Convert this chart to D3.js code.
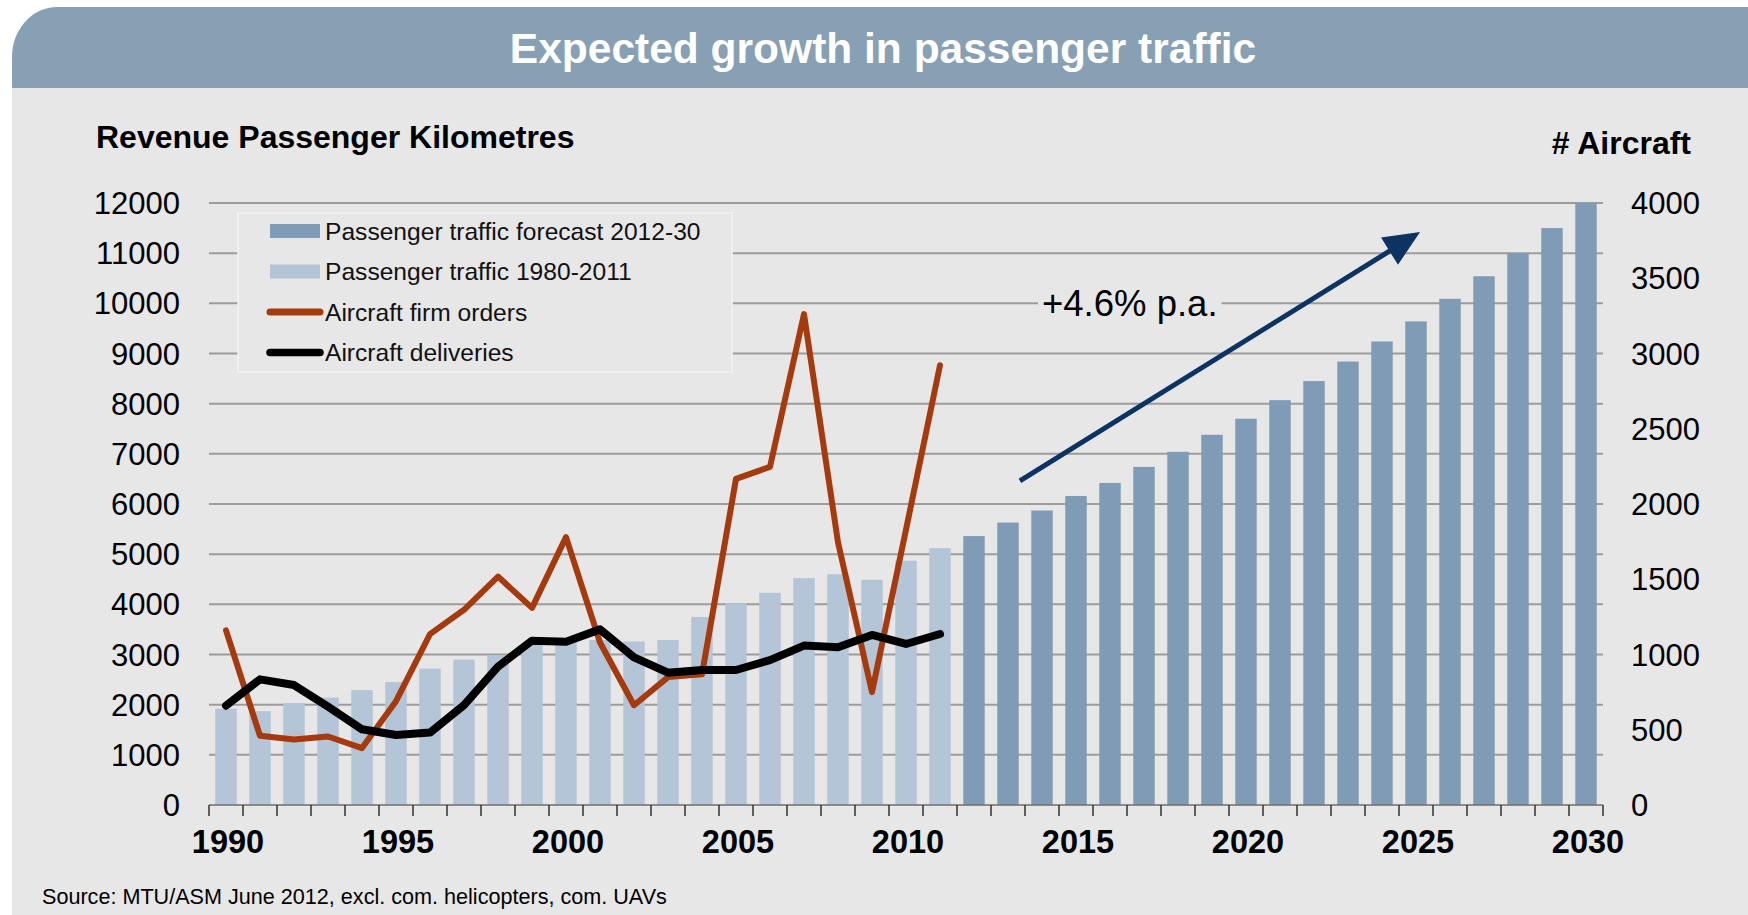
<!DOCTYPE html>
<html>
<head>
<meta charset="utf-8">
<script src="https://cdn.jsdelivr.net/npm/d3@7"></script>
<style>
  html, body { margin: 0; padding: 0; background: #ffffff; }
  svg { display: block; font-family: "Liberation Sans", Arial, sans-serif; }
</style>
</head>
<body>
<svg id="chart" width="1748" height="915"></svg>
<script>
// Years on the category axis
const years = d3.range(1990, 2031);

// Revenue passenger kilometres (left axis), actuals 1990-2011
const trafficHistory = [1920, 1870, 2030, 2140, 2290, 2450, 2720, 2900, 2990, 3200, 3260,
                        3290, 3260, 3290, 3750, 4020, 4230, 4520, 4600, 4490, 4870, 5120];
// Forecast 2012-2030
const trafficForecast = [5360, 5630, 5870, 6160, 6420, 6740, 7040, 7380, 7700, 8070,
                         8450, 8840, 9240, 9640, 10090, 10540, 11000, 11500, 12000];

// Aircraft counts (right axis), 1990-2011
const firmOrders = [1160, 460, 435, 455, 378, 690, 1135, 1297, 1518, 1310, 1780,
                    1080, 663, 850, 868, 2167, 2247, 3262, 1745, 750, 1830, 2922];
const deliveries = [660, 835, 797, 653, 503, 465, 481, 664, 919, 1092, 1085,
                    1167, 981, 879, 897, 897, 963, 1059, 1048, 1130, 1070, 1136];

const leftTicks = d3.range(0, 12001, 1000);
const rightTicks = d3.range(0, 4001, 500);
const xLabelYears = [1990, 1995, 2000, 2005, 2010, 2015, 2020, 2025, 2030];

const legendLabels = ["Passenger traffic forecast 2012-30", "Passenger traffic 1980-2011",
                      "Aircraft firm orders", "Aircraft deliveries"];

const titleText = "Expected growth in passenger traffic";
const leftTitle = "Revenue Passenger Kilometres";
const rightTitle = "# Aircraft";
const growthLabel = "+4.6% p.a.";
const sourceText = "Source: MTU/ASM June 2012, excl. com. helicopters, com. UAVs";

// Colours
const C = {
  banner: "#87a0b3",
  panel: "#e7e7e7",
  grid: "#9c9c9c",
  forecast: "#7f9bb5",
  history: "#b3c5d6",
  orders: "#a53a0e",
  deliveries: "#000000",
  arrow: "#0d3363",
  text: "#000000"
};

const svg = d3.select("#chart");
const W = 1748, H = 915;

// Page background and header banner with a rounded top-left corner
svg.append("rect").attr("width", W).attr("height", H).attr("fill", "#ffffff");
svg.append("rect").attr("x", 12).attr("y", 88).attr("width", W - 12).attr("height", H - 88)
  .attr("fill", C.panel);
svg.append("path")
  .attr("d", `M12,88 L12,57 A45,50 0 0 1 57,7 L${W},7 L${W},88 Z`)
  .attr("fill", C.banner);
svg.append("text").attr("x", 883).attr("y", 63).attr("text-anchor", "middle")
  .attr("font-size", 42.5).attr("font-weight", "bold").attr("fill", "#ffffff")
  .text(titleText);

// Plot geometry
const plot = { left: 209, right: 1603, top: 203, bottom: 805 };

const x = d3.scaleBand().domain(years).range([plot.left, plot.right])
  .paddingInner(0.37).paddingOuter(0.185);
const yL = d3.scaleLinear().domain([0, 12000]).range([plot.bottom, plot.top]);
const yR = d3.scaleLinear().domain([0, 4000]).range([plot.bottom, plot.top]);
// continuous year scale for the annotation arrow (band centres)
const xc = d3.scaleLinear().domain([1990, 2030])
  .range([x(1990) + x.bandwidth() / 2, x(2030) + x.bandwidth() / 2]);

// Gridlines
svg.append("g").selectAll("line").data(leftTicks.filter(d => d > 0)).join("line")
  .attr("x1", plot.left).attr("x2", plot.right)
  .attr("y1", d => yL(d)).attr("y2", d => yL(d))
  .attr("stroke", C.grid).attr("stroke-width", 2);

// Left axis labels
svg.append("g").selectAll("text").data(leftTicks).join("text")
  .attr("x", 180).attr("y", d => yL(d)).attr("dy", "0.36em")
  .attr("text-anchor", "end").attr("font-size", 31).attr("fill", C.text)
  .text(d => d);

// Right axis labels
svg.append("g").selectAll("text").data(rightTicks).join("text")
  .attr("x", 1631).attr("y", d => yR(d)).attr("dy", "0.36em")
  .attr("text-anchor", "start").attr("font-size", 31).attr("fill", C.text)
  .text(d => d);

// Axis titles
svg.append("text").attr("x", 96).attr("y", 148).attr("font-size", 32)
  .attr("font-weight", "bold").attr("fill", C.text).text(leftTitle);
svg.append("text").attr("x", 1691).attr("y", 154).attr("font-size", 32)
  .attr("text-anchor", "end").attr("font-weight", "bold").attr("fill", C.text).text(rightTitle);

// Bars
const histYears = years.slice(0, trafficHistory.length);
const foreYears = years.slice(trafficHistory.length);
svg.append("g").selectAll("rect").data(trafficHistory).join("rect")
  .attr("x", (d, i) => x(histYears[i])).attr("width", x.bandwidth())
  .attr("y", d => yL(d)).attr("height", d => yL(0) - yL(d))
  .attr("fill", C.history);
svg.append("g").selectAll("rect").data(trafficForecast).join("rect")
  .attr("x", (d, i) => x(foreYears[i])).attr("width", x.bandwidth())
  .attr("y", d => yL(d)).attr("height", d => yL(0) - yL(d))
  .attr("fill", C.forecast);

// X axis line and ticks at category boundaries
const step = x.step();
const boundaries = d3.range(years.length + 1).map(i => plot.left + i * step);
svg.append("line").attr("x1", plot.left).attr("x2", plot.right)
  .attr("y1", plot.bottom).attr("y2", plot.bottom)
  .attr("stroke", "#6e6e6e").attr("stroke-width", 1.5);
svg.append("g").selectAll("line").data(boundaries).join("line")
  .attr("x1", d => d).attr("x2", d => d)
  .attr("y1", plot.bottom).attr("y2", plot.bottom + 11)
  .attr("stroke", "#333333").attr("stroke-width", 1.5);

svg.append("g").selectAll("text").data(xLabelYears).join("text")
  .attr("x", d => x(d) + x.bandwidth() / 2 + 2).attr("y", 853)
  .attr("text-anchor", "middle").attr("font-size", 32.5).attr("font-weight", "bold")
  .attr("fill", C.text).text(d => d);

// Lines (right axis)
const line = d3.line().x((d, i) => x(histYears[i]) + x.bandwidth() / 2).y(d => yR(d));
svg.append("path").datum(firmOrders).attr("d", line)
  .attr("fill", "none").attr("stroke", C.orders).attr("stroke-width", 6)
  .attr("stroke-linejoin", "round").attr("stroke-linecap", "round");
svg.append("path").datum(deliveries).attr("d", line)
  .attr("fill", "none").attr("stroke", C.deliveries).attr("stroke-width", 8)
  .attr("stroke-linejoin", "round").attr("stroke-linecap", "round");

// Growth annotation: arrow and label
const arrowFrom = { year: 2013.35, value: 6460 };
const arrowTo = { year: 2025.12, value: 11420 };
const ax1 = xc(arrowFrom.year), ay1 = yL(arrowFrom.value);
const ax2 = xc(arrowTo.year), ay2 = yL(arrowTo.value);
const ang = Math.atan2(ay2 - ay1, ax2 - ax1);
const headLen = 36, headHalf = 16;
const bx = ax2 - headLen * Math.cos(ang), by = ay2 - headLen * Math.sin(ang);
svg.append("line").attr("x1", ax1).attr("y1", ay1)
  .attr("x2", bx + 4 * Math.cos(ang)).attr("y2", by + 4 * Math.sin(ang))
  .attr("stroke", C.arrow).attr("stroke-width", 5);
svg.append("path")
  .attr("d", `M${ax2},${ay2} L${bx + headHalf * Math.sin(ang)},${by - headHalf * Math.cos(ang)} L${bx - headHalf * Math.sin(ang)},${by + headHalf * Math.cos(ang)} Z`)
  .attr("fill", C.arrow);

const gl = svg.append("g");
const glText = gl.append("text").attr("x", xc(2014.0)).attr("y", yL(10000)).attr("dy", "0.36em")
  .attr("font-size", 36.5).attr("fill", C.text).text(growthLabel);
const gb = glText.node().getBBox();
gl.insert("rect", "text").attr("x", gb.x - 4).attr("y", gb.y).attr("width", gb.width + 8)
  .attr("height", gb.height).attr("fill", C.panel);

// Legend
const lg = svg.append("g");
lg.append("rect").attr("x", 238).attr("y", 213).attr("width", 494).attr("height", 159)
  .attr("fill", C.panel).attr("stroke", "#f3f3f3").attr("stroke-width", 1.5);
const rowY = [231, 271.5, 312, 352.5];
const legendKinds = [
  { type: "bar", color: C.forecast },
  { type: "bar", color: C.history },
  { type: "line", color: C.orders, w: 7 },
  { type: "line", color: C.deliveries, w: 7.5 }
];
legendKinds.forEach((k, i) => {
  if (k.type === "bar") {
    lg.append("rect").attr("x", 270).attr("y", rowY[i] - 7).attr("width", 50).attr("height", 14)
      .attr("fill", k.color);
  } else {
    lg.append("line").attr("x1", 270).attr("x2", 320).attr("y1", rowY[i]).attr("y2", rowY[i])
      .attr("stroke", k.color).attr("stroke-width", k.w).attr("stroke-linecap", "round");
  }
  lg.append("text").attr("x", 325).attr("y", rowY[i]).attr("dy", "0.36em")
    .attr("font-size", 24.6).attr("fill", "#111").text(legendLabels[i]);
});

// Source line
svg.append("text").attr("x", 42).attr("y", 904).attr("font-size", 21.6)
  .attr("fill", C.text).text(sourceText);
</script>
</body>
</html>
